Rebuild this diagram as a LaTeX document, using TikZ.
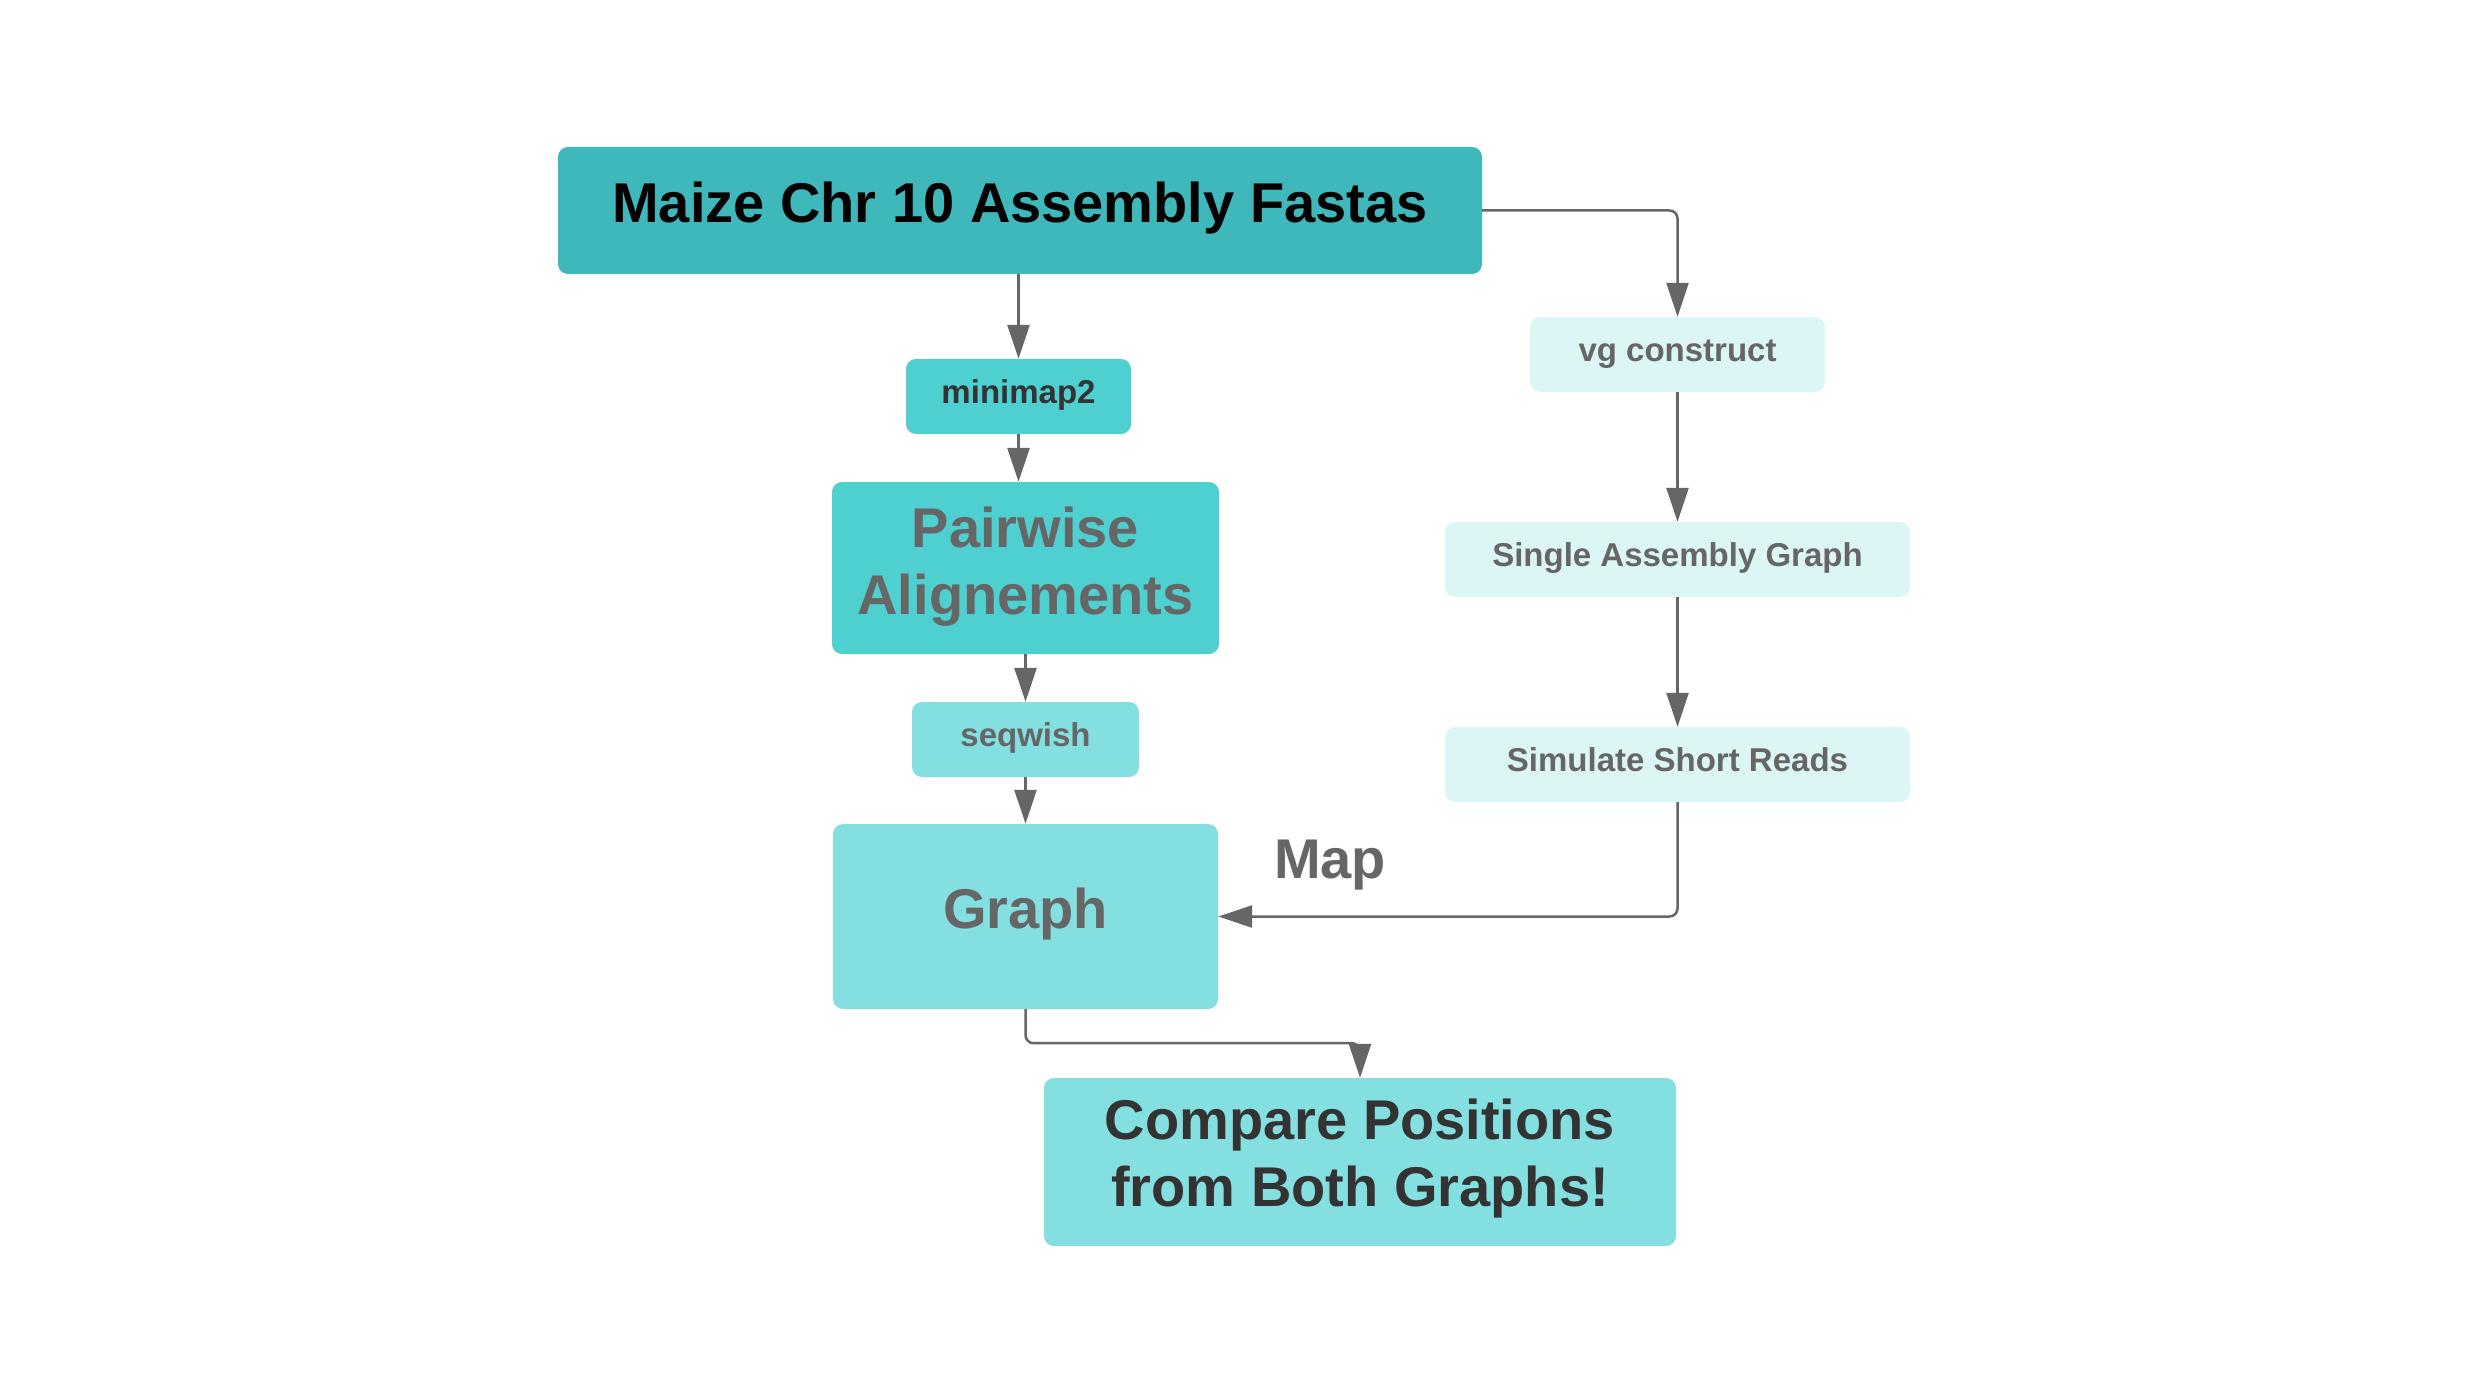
\documentclass[tikz,border=0pt]{standalone}
\usepackage{fontspec}
\setmainfont{Liberation Sans}
\usetikzlibrary{arrows.meta}
\definecolor{tealdark}{HTML}{3EB8BB}
\definecolor{tealmid}{HTML}{4ECFD0}
\definecolor{teallight}{HTML}{84E0E0}
\definecolor{tealpale}{HTML}{DCF5F5}
\definecolor{linegray}{HTML}{666666}
\definecolor{txtgray}{HTML}{666666}
\definecolor{txtdark}{HTML}{333333}
\begin{document}
\begin{tikzpicture}[x=1pt,y=-1pt,
  box/.style={rectangle, rounded corners=10pt, inner sep=0pt, align=center},
  big/.style={font=\fontsize{56}{67}\selectfont\bfseries},
  bigone/.style={big, text height=41pt, text depth=17pt},
  bigtwo/.style={big, text depth=18pt},
  small/.style={font=\fontsize{33}{40}\selectfont\bfseries, text height=24pt, text depth=10pt},
  conn/.style={draw=linegray, line width=2.5pt, rounded corners=8pt, -{Triangle[length=34pt,width=22pt]}}
]
\useasboundingbox[fill=white] (0,0) rectangle (2470,1388);

\node[box, bigone, fill=tealdark, text=black, minimum width=924pt, minimum height=127pt] (maize) at (1020,210.5) {Maize Chr 10 Assembly Fastas};
\node[box, small, fill=tealmid, text=txtdark, minimum width=225pt, minimum height=75pt] (mini) at (1018.5,396.5) {minimap2};
\node[box, bigtwo, text depth=14pt, fill=tealmid, text=txtgray, minimum width=387pt, minimum height=172pt] (pair) at (1025.5,568) {Pairwise\\Alignements};
\node[box, small, fill=teallight, text=txtgray, minimum width=227pt, minimum height=75pt] (seq) at (1025.5,739.5) {seqwish};
\node[box, bigone, fill=teallight, text=txtgray, minimum width=385pt, minimum height=185pt] (graph) at (1025.5,916.5) {Graph};
\node[box, bigtwo, fill=teallight, text=txtdark, minimum width=632pt, minimum height=168pt] (comp) at (1360,1162) {Compare Positions\\from Both Graphs!};
\node[box, small, fill=tealpale, text=txtgray, minimum width=295pt, minimum height=75pt] (vg) at (1677.5,354.5) {vg construct};
\node[box, small, fill=tealpale, text=txtgray, minimum width=465pt, minimum height=75pt] (single) at (1677.5,559.5) {Single Assembly Graph};
\node[box, small, fill=tealpale, text=txtgray, minimum width=465pt, minimum height=75pt] (sim) at (1677.5,764.5) {Simulate Short Reads};
\node[big, text=txtgray, inner sep=0pt] (map) at (1330,865) {Map};

\draw[conn] (maize.south -| mini.north) -- (mini.north);
\draw[conn] (mini.south) -- (mini.south |- pair.north);
\draw[conn] (pair.south) -- (seq.north);
\draw[conn] (seq.south) -- (graph.north);
\draw[conn] (maize.east) -| (vg.north);
\draw[conn] (vg.south) -- (single.north);
\draw[conn] (single.south) -- (sim.north);
\draw[conn] (sim.south) |- (graph.east);
\draw[conn] (graph.south) -- ++(0,34) -| (comp.north);
\end{tikzpicture}
\end{document}
